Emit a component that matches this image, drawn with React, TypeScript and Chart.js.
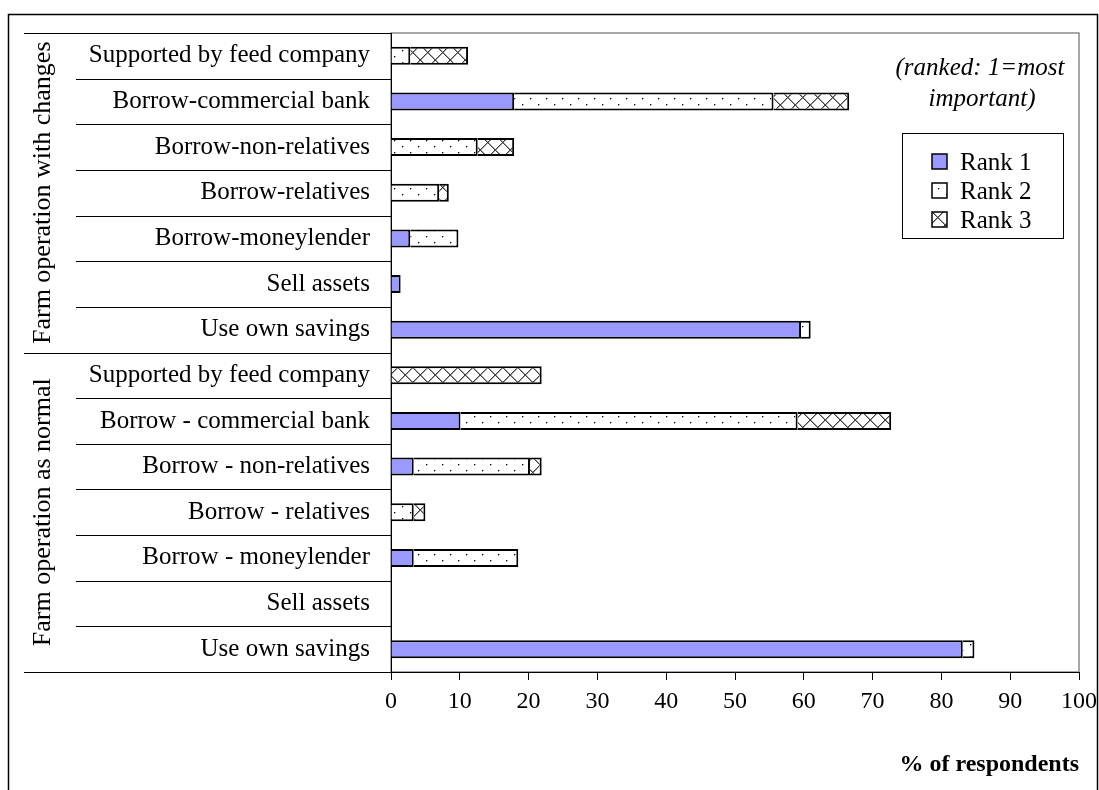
import React, { useEffect, useRef } from "react";
import { Chart, registerables } from "chart.js";

Chart.register(...registerables);

const categories = [
  "Supported by feed company",
  "Borrow-commercial bank",
  "Borrow-non-relatives",
  "Borrow-relatives",
  "Borrow-moneylender",
  "Sell assets",
  "Use own savings",
  "Supported by feed company",
  "Borrow - commercial bank",
  "Borrow - non-relatives",
  "Borrow - relatives",
  "Borrow - moneylender",
  "Sell assets",
  "Use own savings",
];
const groupLabels = ["Farm operation with changes", "Farm operation as normal"];
const groupSizes = [7, 7];
const seriesNames = ["Rank 1", "Rank 2", "Rank 3"];
const rank1 = [0, 17.9, 0, 0, 2.8, 1.4, 59.6, 0, 10.1, 3.3, 0, 3.3, 0, 83.1];
const rank2 = [2.8, 37.7, 12.6, 7.0, 7.0, 0, 1.4, 0, 49.0, 16.9, 3.3, 15.2, 0, 1.7];
const rank3 = [8.4, 11.0, 5.3, 1.4, 0, 0, 0, 21.9, 13.6, 1.7, 1.7, 0, 0, 0];
const xMin = 0;
const xMax = 100;
const xStep = 10;
const axisTitle = "% of respondents";
const noteLines = ["(ranked: 1=most", "important)"];

const FONT = "'Liberation Serif', 'Times New Roman', serif";

function makeDots(): CanvasPattern {
  const c = document.createElement("canvas");
  c.width = 16;
  c.height = 12;
  const x = c.getContext("2d")!;
  x.fillStyle = "#ffffff";
  x.fillRect(0, 0, 16, 12);
  x.fillStyle = "#000000";
  x.fillRect(2, 2, 1, 1);
  x.fillRect(10, 8, 1, 1);
  x.fillStyle = "rgba(0,0,0,0.35)";
  x.fillRect(3, 2, 1, 1);
  x.fillRect(2, 3, 1, 1);
  x.fillRect(11, 8, 1, 1);
  x.fillRect(10, 9, 1, 1);
  return x.createPattern(c, "repeat")!;
}

function makeCross(): CanvasPattern {
  const n = 15;
  const c = document.createElement("canvas");
  c.width = n;
  c.height = n;
  const x = c.getContext("2d")!;
  x.fillStyle = "#ffffff";
  x.fillRect(0, 0, n, n);
  x.fillStyle = "#404040";
  for (let i = 0; i < n; i++) {
    x.fillRect(i, i, 1, 1);
    x.fillRect(n - 1 - i, i, 1, 1);
  }
  x.fillStyle = "rgba(64,64,64,0.5)";
  for (let i = 0; i < n; i++) {
    x.fillRect((i + 1) % n, i, 1, 1);
    x.fillRect((n - i) % n, i, 1, 1);
  }
  return x.createPattern(c, "repeat")!;
}

const decorPlugin = {
  id: "decor",
  beforeDraw(chart: any) {
    const ctx = chart.ctx as CanvasRenderingContext2D;
    const a = chart.chartArea;
    ctx.save();
    ctx.fillStyle = "#ffffff";
    ctx.fillRect(0, 0, chart.width, chart.height);
    ctx.strokeStyle = "#000000";
    ctx.lineWidth = 1.5;
    ctx.strokeRect(8.5, 14.5, 1089, 800);
    ctx.strokeStyle = "#8a8a8a";
    ctx.lineWidth = 1.5;
    ctx.strokeRect(a.left, a.top, a.right - a.left, a.bottom - a.top);
    ctx.restore();
  },
  afterDraw(chart: any) {
    const ctx = chart.ctx as CanvasRenderingContext2D;
    const a = chart.chartArea;
    const ys = chart.scales.y;
    const n = chart.data.labels.length;
    const pix = (i: number) => ys.getPixelForValue(i);
    const boundaries = new Set<number>([0]);
    let acc = 0;
    groupSizes.forEach((g) => {
      acc += g;
      boundaries.add(acc);
    });
    ctx.save();
    ctx.strokeStyle = "#000000";
    ctx.lineWidth = 1;
    for (let i = 0; i <= n; i++) {
      const yy = i === 0 ? a.top : i === n ? a.bottom : (pix(i - 1) + pix(i)) / 2;
      const x0 = boundaries.has(i) ? 24 : 76;
      const yr = Math.round(yy) + 0.5;
      ctx.beginPath();
      ctx.moveTo(x0, yr);
      ctx.lineTo(a.left, yr);
      ctx.stroke();
    }
    // group labels (rotated)
    ctx.fillStyle = "#000000";
    ctx.font = `26px ${FONT}`;
    ctx.textAlign = "center";
    ctx.textBaseline = "middle";
    let s = 0;
    groupSizes.forEach((g, gi) => {
      const top = s === 0 ? a.top : (pix(s - 1) + pix(s)) / 2;
      const e = s + g;
      const bot = e === n ? a.bottom : (pix(e - 1) + pix(e)) / 2;
      ctx.save();
      ctx.translate(43, (top + bot) / 2);
      ctx.rotate(-Math.PI / 2);
      ctx.fillText(groupLabels[gi], 0, 0);
      ctx.restore();
      s = e;
    });
    // note
    ctx.font = `italic 25px ${FONT}`;
    ctx.textAlign = "center";
    ctx.textBaseline = "alphabetic";
    ctx.fillText(noteLines[0], 980, 75);
    ctx.fillText(noteLines[1], 982, 106);
    // legend
    const lx = 902.5, ly = 133.5, lw = 161, lh = 105;
    ctx.fillStyle = "#ffffff";
    ctx.fillRect(lx, ly, lw, lh);
    ctx.strokeStyle = "#000000";
    ctx.lineWidth = 1;
    ctx.strokeRect(lx, ly, lw, lh);
    const rows = [162, 191, 220];
    chart.data.datasets.forEach((ds: any, i: number) => {
      const cy = rows[i];
      ctx.fillStyle = ds.backgroundColor;
      ctx.fillRect(932, cy - 8, 15, 15);
      ctx.strokeStyle = "#000000";
      ctx.lineWidth = 1.5;
      ctx.strokeRect(932, cy - 8, 15, 15);
      ctx.fillStyle = "#000000";
      ctx.font = `25px ${FONT}`;
      ctx.textAlign = "left";
      ctx.textBaseline = "middle";
      ctx.fillText(ds.label, 960, cy + 1);
    });
    ctx.restore();
  },
};

export default function App() {
  const ref = useRef<HTMLCanvasElement>(null);
  useEffect(() => {
    const canvas = ref.current!;
    const dots = makeDots();
    const cross = makeCross();
    const common = {
      borderColor: "#000000",
      borderWidth: 2,
      barThickness: 18,
      inflateAmount: 0,
    };
    const chart = new Chart(canvas, {
      type: "bar",
      data: {
        labels: categories,
        datasets: [
          { label: seriesNames[0], data: rank1, backgroundColor: "#9999FF", ...common },
          { label: seriesNames[1], data: rank2, backgroundColor: dots, ...common },
          { label: seriesNames[2], data: rank3, backgroundColor: cross, ...common },
        ] as any,
      },
      options: {
        indexAxis: "y",
        responsive: false,
        maintainAspectRatio: false,
        animation: false,
        events: [],
        layout: { padding: { left: 0, right: 20, top: 33, bottom: 7 } },
        plugins: { legend: { display: false }, tooltip: { enabled: false } },
        scales: {
          x: {
            type: "linear",
            stacked: true,
            min: xMin,
            max: xMax,
            position: "bottom",
            ticks: {
              stepSize: xStep,
              font: { family: FONT, size: 24 },
              color: "#000000",
              padding: 7,
              maxRotation: 0,
            },
            grid: {
              display: true,
              drawOnChartArea: false,
              drawTicks: true,
              tickLength: 8,
              color: "#000000",
              lineWidth: 1,
            },
            border: { display: true, color: "#000000", width: 1 },
            title: {
              display: true,
              text: axisTitle,
              align: "end",
              color: "#000000",
              font: { family: FONT, size: 24, weight: "bold" },
              padding: { top: 4, bottom: 4 },
            },
            afterFit: (sc: any) => {
              sc.height = 111;
              sc.paddingRight = 0;
              sc.paddingLeft = 0;
            },
          },
          y: {
            type: "category",
            stacked: true,
            position: "left",
            ticks: {
              font: { family: FONT, size: 25 },
              color: "#000000",
              padding: 21,
              autoSkip: false,
            },
            grid: {
              display: true,
              drawOnChartArea: false,
              drawTicks: false,
              color: "rgba(0,0,0,0)",
            },
            border: { display: true, color: "#000000", width: 1 },
            afterFit: (sc: any) => {
              sc.width = 391;
              sc.paddingTop = 0;
              sc.paddingBottom = 0;
            },
          },
        },
      } as any,
      plugins: [decorPlugin],
    });
    return () => chart.destroy();
  }, []);
  return (
    <div style={{ position: "fixed", left: 0, top: 0, width: 1099, height: 790, background: "#fff" }}>
      <canvas ref={ref} width={1099} height={790} style={{ display: "block" }} />
    </div>
  );
}
